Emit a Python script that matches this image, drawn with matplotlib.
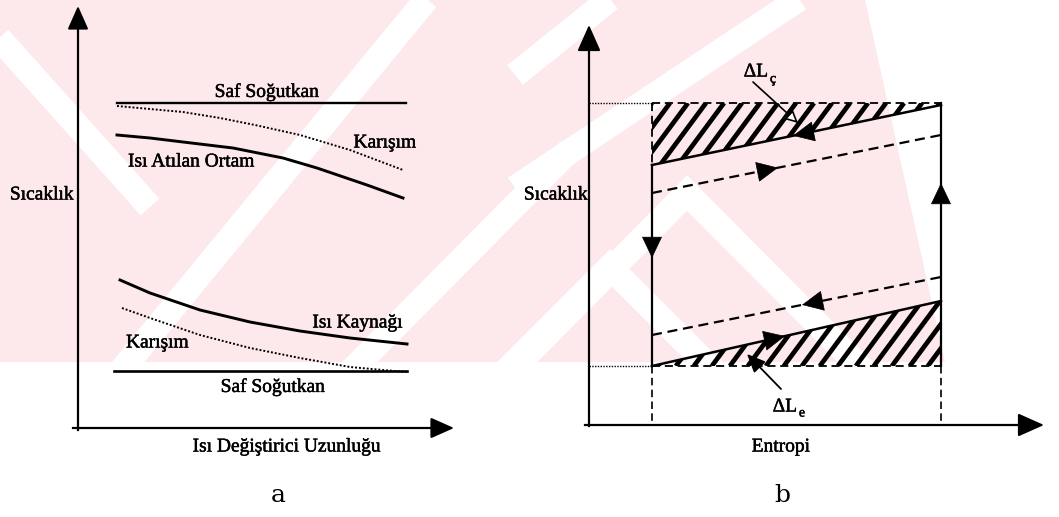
import numpy as np
import matplotlib.pyplot as plt
import matplotlib.patheffects as pe
from matplotlib.patches import Polygon
from matplotlib.collections import LineCollection

plt.rcParams['font.family'] = ['Liberation Serif', 'DejaVu Serif']

# ---- (a) sıcaklık - ısı değiştirici uzunluğu (piksel koordinatları, y aşağı)
saf_ust_x = [117, 406]
saf_ust_y = [103, 103]
karisim_ust_x = [117, 150, 183, 220, 255, 300, 350, 403]
karisim_ust_y = [106, 109, 112, 118, 125, 135, 150, 170]
atilan_x = [117, 150, 183, 233, 283, 317, 367, 403]
atilan_y = [135, 138, 142, 148, 158, 168, 185, 198]
kaynak_x = [120, 150, 200, 250, 300, 350, 407]
kaynak_y = [280, 293, 310, 322, 331, 338, 344]
karisim_alt_x = [122, 150, 200, 250, 300, 350, 383, 407]
karisim_alt_y = [308, 318, 335, 348, 358, 367, 370, 372]
saf_alt_x = [114, 407]
saf_alt_y = [371, 371]

# ---- (b) sıcaklık - entropi
s_sol, s_sag = 652, 941
t_ust, t_alt = 103, 366
cevrim_s = [s_sol, s_sag]
yogusma_t = [165, 105]      # karışım yoğuşurken (düz)
atilan_t = [193, 135]       # ısı atılan ortam (kesikli)
kaynak_t = [335, 277]       # ısı kaynağı (kesikli)
buharlasma_t = [366, 301]   # karışım buharlaşırken (düz)

PEMBE = '#fde8ec'
YAZI = 14
koyu = [pe.withStroke(linewidth=0.35, foreground='k')]


def yaz(ax, x, y, s, **kw):
    kw.setdefault('fontsize', YAZI)
    kw.setdefault('ha', 'center')
    kw.setdefault('va', 'center')
    ax.text(x, y, s, path_effects=koyu, **kw)


def ok(ax, p0, p1, lw=1.5, ms=16, hl=0.9, hw=0.4):
    ax.annotate('', xy=p1, xytext=p0,
                arrowprops=dict(arrowstyle=f'-|>,head_length={hl},head_width={hw}',
                                color='k', lw=lw, shrinkA=0, shrinkB=0,
                                mutation_scale=ms))


def yon(ax, xs, ys, x_uc, sag=True, boy=14):
    # çizgi üzerinde akış yönü oku
    y_uc = np.interp(x_uc, xs, ys)
    dx = -boy if sag else boy
    ax.annotate('', xy=(x_uc, y_uc), xytext=(x_uc + dx, np.interp(x_uc + dx, xs, ys)),
                arrowprops=dict(arrowstyle='-|>,head_length=0.8,head_width=0.38',
                                color='k', lw=0.5, shrinkA=0, shrinkB=0,
                                mutation_scale=18))


def tarali(ax, koseler, adim=18, egim=1.35, lw=3.4):
    alan = Polygon(koseler, closed=True, fc='none', ec='none')
    ax.add_patch(alan)
    xs = [p[0] for p in koseler]
    ys = [p[1] for p in koseler]
    y0, y1 = min(ys), max(ys)
    h = y1 - y0
    cizgiler = [[(x, y1), (x + h / egim, y0)]
                for x in np.arange(min(xs) - h / egim, max(xs) + adim, adim)]
    lc = LineCollection(cizgiler, colors='k', linewidths=lw, zorder=2)
    ax.add_collection(lc)
    lc.set_clip_path(alan)


fig = plt.figure(figsize=(10.59, 5.17), dpi=100)
ax = fig.add_axes([0, 0, 1, 1])
ax.set_xlim(0, 1059)
ax.set_ylim(517, 0)
ax.axis('off')

# arka plandaki soluk pembe şeritler
zemin = Polygon([(0, 0), (865, 0), (945, 362), (0, 362)], closed=True,
                fc=PEMBE, ec='none', zorder=0)
ax.add_patch(zemin)
bantlar = [
    ([-10, 150], [28, 207]),
    ([120, 430], [372, -5]),
    ([350, 570], [372, 150]),
    ([510, 687, 865], [372, 193, 372]),
    ([505, 610, 715], [372, 267, 372]),
    ([515, 615], [75, -5]),
    ([515, 805], [188, -5]),
]
for bx, by in bantlar:
    bant, = ax.plot(bx, by, color='white', lw=18, solid_capstyle='butt',
                    solid_joinstyle='miter', zorder=0.5)
    bant.set_clip_path(zemin)

# ================= (a) =================
ax.plot([78, 78], [430, 20], color='k', lw=1.6)
ok(ax, (78, 30), (78, 6), ms=16)
ax.plot([73, 440], [428, 428], color='k', lw=1.6)
ok(ax, (430, 428), (454, 428), ms=16)

ax.plot(saf_ust_x, saf_ust_y, color='k', lw=1.7)
ax.plot(karisim_ust_x, karisim_ust_y, color='k', lw=1.4, linestyle=(0, (1, 1)))
ax.plot(atilan_x, atilan_y, color='k', lw=2.1)
ax.plot(kaynak_x, kaynak_y, color='k', lw=2.1)
ax.plot(karisim_alt_x, karisim_alt_y, color='k', lw=1.4, linestyle=(0, (1, 1)))
ax.plot(saf_alt_x, saf_alt_y, color='k', lw=1.9)

yaz(ax, 267, 92, 'Saf Soğutkan')
yaz(ax, 385, 143, 'Karışım')
yaz(ax, 128, 162, 'Isı Atılan Ortam', ha='left')
yaz(ax, 403, 323, 'Isı Kaynağı', ha='right')
yaz(ax, 126, 343, 'Karışım', ha='left')
yaz(ax, 273, 387, 'Saf Soğutkan')
yaz(ax, 74, 195, 'Sıcaklık', ha='right')
yaz(ax, 287, 447, 'Isı Değiştirici Uzunluğu')
ax.text(278, 496, 'a', fontsize=18, ha='center', va='center', family='DejaVu Serif')

# ================= (b) =================
ax.plot([589, 589], [426, 40], color='k', lw=1.6)
ok(ax, (589, 45), (589, 25), ms=18)
ax.plot([585, 1030], [425, 425], color='k', lw=1.6)
ok(ax, (1025, 425), (1044, 425), ms=18)

# sabit sıcaklık seviyeleri
ax.plot([589, s_sol], [t_ust, t_ust], color='k', lw=1.0, linestyle=(0, (1, 1)))
ax.plot([589, s_sol], [t_alt, t_alt], color='k', lw=1.0, linestyle=(0, (1, 1)))
kesik = (0, (4.5, 2.6))
ax.plot(cevrim_s, [t_ust, t_ust], color='k', lw=1.3, linestyle=kesik)
ax.plot(cevrim_s, [t_alt, t_alt], color='k', lw=1.3, linestyle=kesik)
ax.plot([s_sol, s_sol], [t_ust, yogusma_t[0]], color='k', lw=1.3, linestyle=kesik)
ax.plot([s_sol, s_sol], [t_alt, 425], color='k', lw=1.2, linestyle=kesik)
ax.plot([s_sag, s_sag], [t_alt, 425], color='k', lw=1.2, linestyle=kesik)

# ΔL alanları
tarali(ax, [(s_sol, t_ust), (s_sag, t_ust), (s_sag, yogusma_t[1]), (s_sol, yogusma_t[0])])
tarali(ax, [(s_sol, buharlasma_t[0]), (s_sag, buharlasma_t[1]), (s_sag, t_alt), (s_sol, t_alt)])

# çevrim
ax.plot(cevrim_s, yogusma_t, color='k', lw=1.8)
ax.plot(cevrim_s, buharlasma_t, color='k', lw=1.8)
ax.plot(cevrim_s, atilan_t, color='k', lw=1.6, linestyle=kesik)
ax.plot(cevrim_s, kaynak_t, color='k', lw=1.6, linestyle=kesik)
ax.plot([s_sol, s_sol], [yogusma_t[0], t_alt], color='k', lw=1.6)
ax.plot([s_sag, s_sag], [t_ust, t_alt], color='k', lw=1.6)

yon(ax, cevrim_s, yogusma_t, 793, sag=False)
yon(ax, cevrim_s, atilan_t, 778, sag=True)
yon(ax, cevrim_s, kaynak_t, 802, sag=False)
yon(ax, cevrim_s, buharlasma_t, 785, sag=True)
ax.annotate('', xy=(s_sol, 258), xytext=(s_sol, 240),
            arrowprops=dict(arrowstyle='-|>,head_length=0.8,head_width=0.38',
                            color='k', lw=0.5, shrinkA=0, shrinkB=0, mutation_scale=18))
ax.annotate('', xy=(s_sag, 183), xytext=(s_sag, 201),
            arrowprops=dict(arrowstyle='-|>,head_length=0.8,head_width=0.38',
                            color='k', lw=0.5, shrinkA=0, shrinkB=0, mutation_scale=18))

# ΔL etiketleri
yaz(ax, 756, 72, 'ΔL')
yaz(ax, 773, 79, 'ç', fontsize=10)
ax.annotate('', xy=(798, 123), xytext=(753, 82),
            arrowprops=dict(arrowstyle='-|>,head_length=0.6,head_width=0.3',
                            fc='white', ec='k', lw=1.2, shrinkA=0, shrinkB=0,
                            mutation_scale=12))
yaz(ax, 785, 407, 'ΔL')
yaz(ax, 802, 413, 'e', fontsize=10)
ax.annotate('', xy=(747, 354), xytext=(781, 389),
            arrowprops=dict(arrowstyle='-|>,head_length=0.8,head_width=0.35',
                            color='k', lw=1.3, shrinkA=0, shrinkB=0,
                            mutation_scale=14))

yaz(ax, 588, 195, 'Sıcaklık', ha='right')
yaz(ax, 781, 447, 'Entropi')
ax.text(782, 496, 'b', fontsize=18, ha='center', va='center', family='DejaVu Serif')

fig.savefig('out.png', dpi=100)
